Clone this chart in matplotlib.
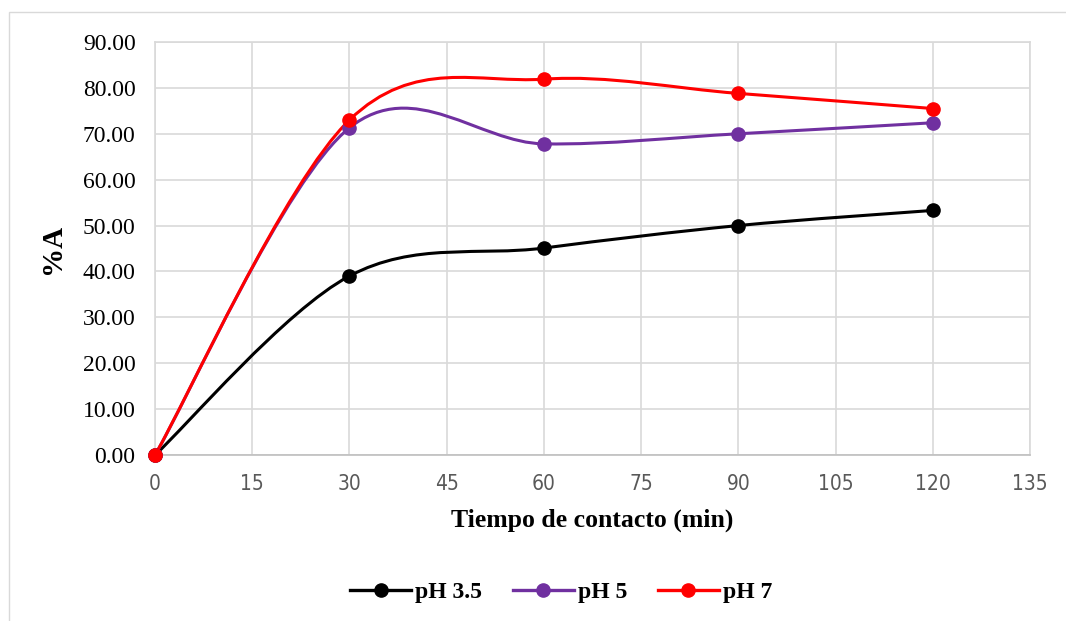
import numpy as np
import matplotlib
matplotlib.use('Agg')
import matplotlib.pyplot as plt
from matplotlib.path import Path
from matplotlib.patches import PathPatch, Rectangle
from matplotlib.lines import Line2D

# datos
tiempo = [0, 30, 60, 90, 120]
ph35 = [0.0, 39.0, 45.1, 50.0, 53.3]
ph5 = [0.0, 71.3, 67.8, 70.0, 72.4]
ph7 = [0.0, 73.0, 81.9, 78.8, 75.5]
series = [("pH 3.5", ph35, "#000000"), ("pH 5", ph5, "#7030A0"), ("pH 7", ph7, "#FF0000")]
xticks = list(range(0, 136, 15))
yticks = list(range(0, 91, 10))


def curva_suave(x, y):
    """Curva tipo Excel (Bezier con puntos de control a 1/6)"""
    x = np.asarray(x, float)
    y = np.asarray(y, float)
    px = np.concatenate(([x[0]], x, [x[-1]]))
    py = np.concatenate(([y[0]], y, [y[-1]]))
    verts = [(x[0], y[0])]
    codes = [Path.MOVETO]
    for i in range(1, len(px) - 2):
        c1 = (px[i] + (px[i + 1] - px[i - 1]) / 6, py[i] + (py[i + 1] - py[i - 1]) / 6)
        c2 = (px[i + 1] - (px[i + 2] - px[i]) / 6, py[i + 1] - (py[i + 2] - py[i]) / 6)
        verts += [c1, c2, (px[i + 1], py[i + 1])]
        codes += [Path.CURVE4] * 3
    return Path(verts, codes)


fig = plt.figure(figsize=(10.66, 6.21), dpi=100)
fig.patches.append(Rectangle((9 / 1066, -0.05), 1.1, 1 - 12 / 621 + 0.05, transform=fig.transFigure,
                             fill=False, edgecolor="#D9D9D9", linewidth=1))
ax = fig.add_axes([155 / 1066, 1 - 455 / 621, 875 / 1066, 413 / 621])

for nombre, vals, color in series:
    ax.add_patch(PathPatch(curva_suave(tiempo, vals), facecolor="none", edgecolor=color,
                           linewidth=2.2, zorder=3, capstyle="round"))
    ax.plot(tiempo, vals, linestyle="none", marker="o", markersize=9.5, color=color, zorder=4, clip_on=False)

ax.set_xlim(0, 135)
ax.set_ylim(0, 90)
ax.set_xticks(xticks)
ax.set_yticks(yticks)
ax.set_yticklabels([f"{v:.2f}" for v in yticks], fontfamily="Liberation Serif", fontsize=17)
ax.set_xticklabels([str(v) for v in xticks], fontfamily="DejaVu Sans", fontstretch="condensed",
                   fontsize=15, color="#595959")
ax.tick_params(axis="both", length=0)
ax.tick_params(axis="x", pad=14)
ax.tick_params(axis="y", pad=14)
ax.grid(True, color="#D9D9D9", linewidth=1.2)
ax.set_axisbelow(True)
for s in ["top", "right", "left"]:
    ax.spines[s].set_color("#D9D9D9")
    ax.spines[s].set_linewidth(1.2)
ax.spines["bottom"].set_color("#BFBFBF")
ax.spines["bottom"].set_linewidth(1.2)

ax.set_xlabel("Tiempo de contacto (min)", fontfamily="Liberation Serif", fontweight="bold",
              fontsize=18.5, labelpad=10)
ax.set_ylabel("%A", fontfamily="Liberation Serif", fontweight="bold", fontsize=21, labelpad=12)

handles = [Line2D([0], [0], color=c, linewidth=2.4, marker="o", markersize=9.5) for _, _, c in series]
fig.legend(handles, [n for n, _, _ in series], loc="center", bbox_to_anchor=(561 / 1066, 1 - 592 / 621),
           ncol=3, frameon=False, handlelength=2.6, columnspacing=1.3, handletextpad=0.15,
           prop={"family": "Liberation Serif", "weight": "bold", "size": 17})

fig.savefig("out.png", dpi=100)
